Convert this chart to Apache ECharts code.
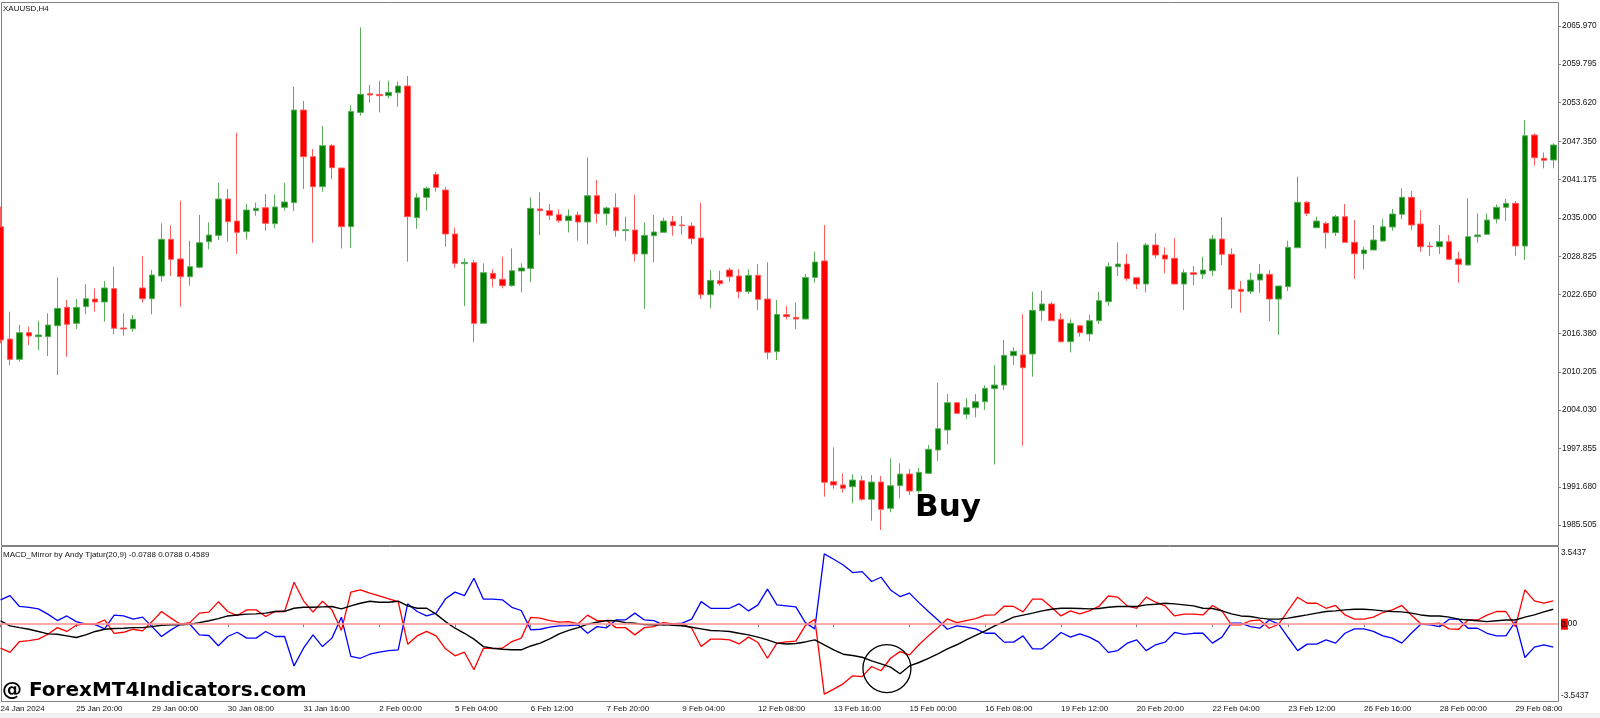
<!DOCTYPE html>
<html><head><meta charset="utf-8">
<script src="https://cdn.jsdelivr.net/npm/echarts@6/dist/echarts.min.js"></script>
<style>html,body{margin:0;padding:0;background:#fff;}#c{width:1600px;height:718px;}</style>
</head><body><div id="c"></div>
<script>
// ---------- data (XAUUSD H4) ----------
const open = [
2033.60,2015.50,2012.22,2016.52,2015.87,2015.87,2017.64,2020.60,2018.02,2020.71,
2021.94,2021.46,2023.61,2017.27,2017.16,2023.72,2021.99,2025.65,2031.56,2028.39,
2025.54,2027.05,2031.18,2032.20,2038.06,2034.51,2032.80,2036.18,2036.66,2034.08,
2036.72,2037.47,2052.40,2044.88,2040.05,2046.65,2043.05,2033.60,2052.02,2055.03,
2054.93,2054.71,2055.19,2056.27,2035.05,2038.33,2042.03,2039.51,2032.42,2027.64,
2027.80,2018.02,2026.08,2025.11,2024.09,2026.46,2026.88,2036.45,2036.18,2035.53,
2034.57,2035.48,2034.35,2038.60,2035.70,2036.66,2032.96,2033.06,2029.20,2032.15,
2032.69,2034.41,2033.87,2033.71,2031.77,2022.64,2024.90,2026.62,2025.65,2023.13,
2025.76,2021.94,2013.46,2019.42,2018.99,2018.72,2025.43,2028.07,1992.50,1991.97,
1991.69,1992.66,1989.66,1992.45,1988.21,1991.86,1993.74,1991.00,1993.85,1997.61,
2000.83,2005.23,2003.36,2004.42,2005.39,2007.49,2008.08,2012.81,2012.92,2013.08,
2020.06,2021.14,2018.67,2015.06,2017.64,2016.30,2018.45,2021.51,2027.15,2027.58,
2025.37,2024.36,2030.64,2029.03,2028.50,2024.36,2026.18,2025.97,2026.50,2031.61,
2029.15,2023.51,2023.18,2025.00,2025.92,2021.94,2023.93,2030.21,2037.53,2033.43,
2034.14,2032.63,2035.21,2031.08,2029.24,2029.84,2031.29,2033.55,2035.59,2038.33,
2034.03,2030.48,2030.37,2031.18,2028.39,2027.42,2031.99,2032.37,2034.84,2036.72,
2037.36,2030.48,2048.37,2044.62,2044.35];
const close = [
2015.34,2012.22,2016.52,2015.98,2016.14,2017.75,2020.44,2017.86,2020.60,2021.99,
2021.46,2023.72,2017.22,2017.11,2018.67,2021.99,2025.81,2031.56,2028.34,2025.54,
2027.15,2031.02,2032.26,2038.06,2034.41,2032.69,2036.29,2036.56,2034.14,2036.77,
2037.58,2052.40,2044.88,2040.05,2046.65,2043.11,2033.60,2052.18,2054.93,2054.82,
2054.71,2055.25,2056.27,2035.21,2038.27,2039.78,2039.94,2032.42,2027.69,2027.85,
2018.02,2026.19,2025.22,2024.09,2026.51,2026.94,2036.56,2036.18,2035.43,2034.57,
2035.32,2034.35,2038.60,2035.70,2036.61,2032.96,2033.12,2029.20,2032.20,2032.74,
2034.51,2033.76,2033.76,2031.67,2022.64,2024.95,2024.42,2025.54,2023.13,2025.76,
2021.89,2013.35,2019.47,2019.10,2018.72,2025.43,2027.91,1992.40,1991.97,1991.44,
1992.77,1989.66,1992.45,1988.05,1991.86,1993.74,1991.00,1994.01,1997.72,2001.04,
2005.23,2003.52,2004.42,2005.39,2007.55,2008.08,2012.87,2013.51,2010.87,2020.12,
2021.14,2018.45,2015.06,2018.03,2016.51,2018.45,2021.67,2027.15,2027.58,2025.21,
2024.36,2030.64,2029.03,2028.39,2024.36,2026.18,2025.92,2026.61,2031.61,2029.15,
2023.51,2023.18,2025.00,2025.97,2021.94,2024.04,2030.27,2037.53,2035.75,2034.51,
2032.63,2035.21,2031.08,2029.24,2029.84,2031.45,2033.59,2035.64,2038.33,2033.87,
2030.37,2030.37,2031.18,2028.34,2027.53,2031.99,2032.26,2034.67,2036.72,2037.36,
2030.48,2048.26,2044.71,2044.30,2046.76];
const high = [
2036.82,2019.90,2017.75,2017.48,2018.45,2019.63,2025.43,2021.78,2021.94,2024.31,
2023.66,2024.84,2027.15,2019.63,2019.36,2028.87,2026.62,2034.14,2033.82,2037.79,
2031.34,2035.48,2034.30,2040.69,2039.67,2048.75,2037.26,2037.47,2038.86,2038.76,
2040.69,2056.16,2053.85,2046.12,2049.82,2046.92,2043.11,2053.15,2065.72,2056.43,
2057.13,2057.13,2056.97,2057.88,2038.97,2040.05,2042.46,2040.05,2033.44,2028.50,
2028.23,2027.69,2026.72,2028.77,2030.11,2027.69,2038.33,2039.13,2037.26,2036.40,
2036.40,2036.02,2044.77,2041.12,2036.82,2038.97,2035.21,2038.76,2034.30,2035.48,
2035.05,2035.32,2035.32,2034.30,2037.47,2026.62,2026.51,2027.00,2026.78,2026.72,
2027.58,2027.85,2021.78,2020.81,2021.40,2025.97,2029.57,2033.87,1998.04,1993.85,
1993.69,1993.47,1993.58,1993.42,1996.27,1995.46,1994.55,1994.76,1998.41,2008.45,
2006.63,2005.29,2005.94,2006.63,2008.04,2011.31,2015.34,2014.16,2019.48,2023.12,
2023.23,2021.51,2019.64,2018.67,2017.75,2019.36,2023.12,2027.86,2031.08,2029.19,
2025.44,2031.01,2032.53,2030.27,2031.73,2026.73,2027.26,2028.76,2032.26,2035.11,
2030.11,2024.84,2026.18,2027.58,2026.61,2024.09,2031.34,2041.65,2037.74,2035.21,
2034.40,2035.48,2037.25,2034.67,2030.37,2033.87,2034.79,2036.45,2039.78,2039.40,
2036.29,2031.18,2033.87,2032.26,2029.57,2038.17,2035.75,2035.75,2037.20,2038.06,
2037.74,2050.79,2048.64,2045.58,2047.04];
const low = [
2014.80,2011.31,2011.84,2014.53,2013.72,2012.76,2009.69,2012.65,2017.06,2019.47,
2019.90,2018.29,2016.25,2016.03,2016.68,2021.35,2019.47,2024.74,2025.65,2020.71,
2024.09,2026.88,2029.95,2031.45,2031.18,2029.20,2031.56,2035.37,2032.96,2033.33,
2036.18,2036.13,2039.67,2031.02,2039.24,2041.23,2030.11,2030.22,2051.49,2053.58,
2052.02,2054.28,2052.94,2027.96,2033.28,2036.18,2039.24,2030.38,2026.99,2020.81,
2014.96,2018.02,2023.82,2023.66,2023.93,2023.02,2024.63,2032.26,2034.67,2034.24,
2032.69,2031.34,2030.75,2034.14,2033.87,2031.99,2031.34,2027.96,2020.33,2027.85,
2032.69,2032.15,2032.31,2030.75,2021.94,2020.44,2024.09,2024.74,2022.05,2022.75,
2020.17,2012.22,2012.11,2018.67,2017.06,2018.67,2024.57,1990.08,1991.37,1990.73,
1989.02,1989.44,1986.21,1984.71,1987.57,1989.82,1990.36,1990.63,1993.74,1995.88,
1998.53,2003.41,2002.56,2002.88,2004.05,1995.30,2007.27,2011.31,1998.30,2009.42,
2018.45,2018.45,2014.96,2013.35,2015.87,2015.18,2017.91,2020.81,2025.65,2024.89,
2023.55,2023.02,2028.50,2026.08,2024.36,2020.17,2024.20,2025.17,2025.70,2027.42,
2020.44,2019.74,2022.75,2022.96,2018.40,2016.14,2023.23,2030.21,2035.32,2033.43,
2030.11,2032.10,2031.08,2025.17,2026.73,2029.84,2031.18,2032.95,2034.79,2033.06,
2029.57,2028.87,2029.19,2028.23,2024.57,2027.31,2031.01,2032.26,2034.14,2034.56,
2028.92,2028.23,2043.42,2043.01,2043.01];

// MACD_Mirror lines
const macdRed = [
-1.19,-1.40,-0.86,-0.81,-0.74,-0.50,-0.17,-0.36,-0.05,0.02,
0.00,0.21,-0.45,-0.40,-0.25,-0.33,0.13,0.63,0.30,0.00,
0.08,0.55,0.60,1.11,0.63,0.43,0.71,0.71,0.38,0.63,
0.63,2.08,1.16,0.60,1.14,0.71,-0.31,1.59,1.70,1.54,
1.40,1.26,1.12,-0.99,-0.58,-0.36,-0.58,-1.22,-1.57,-1.39,
-2.26,-1.19,-1.21,-1.19,-0.86,-0.69,0.34,0.30,0.18,0.10,
0.13,0.02,0.45,0.18,0.18,-0.17,-0.17,-0.53,-0.17,-0.12,
0.08,0.02,0.02,-0.20,-1.11,-0.74,-0.74,-0.78,-0.98,-0.64,
-0.91,-1.69,-0.94,-0.88,-0.84,-0.07,0.25,-3.47,-3.22,-2.96,
-2.56,-2.60,-2.10,-2.31,-1.69,-1.36,-1.52,-1.02,-0.58,-0.17,
0.26,0.08,0.18,0.28,0.45,0.46,0.89,0.88,0.61,1.24,
1.24,0.84,0.41,0.66,0.51,0.66,0.88,1.40,1.34,0.91,
0.79,1.34,1.09,0.91,0.41,0.50,0.50,0.46,0.93,0.66,
-0.03,-0.03,0.17,0.21,-0.20,0.00,0.68,1.34,1.04,1.04,
0.79,0.93,0.46,0.25,0.25,0.35,0.58,0.71,0.93,0.46,
0.02,0.02,0.05,-0.23,-0.25,0.21,0.21,0.45,0.63,0.63,
-0.12,1.70,1.16,1.04,1.16];
const macdBlue = [
1.21,1.42,0.88,0.83,0.76,0.50,0.18,0.41,0.13,0.00,
-0.02,-0.23,0.45,0.41,0.25,0.35,-0.12,-0.61,-0.28,0.00,
0.00,-0.53,-0.56,-1.07,-0.61,-0.40,-0.69,-0.69,-0.36,-0.61,
-0.61,-2.07,-1.19,-0.53,-1.11,-0.69,0.35,-1.60,-1.69,-1.49,
-1.39,-1.31,-1.27,1.01,0.63,0.41,0.55,1.26,1.59,1.42,
2.28,1.24,1.24,1.21,0.84,0.68,-0.28,-0.25,-0.15,-0.08,
-0.07,-0.03,-0.45,-0.12,-0.18,0.21,0.21,0.55,0.21,0.18,
-0.03,0.02,0.05,0.25,1.12,0.79,0.79,0.79,1.01,0.66,
0.96,1.74,0.96,0.91,0.86,0.08,-0.23,3.49,3.22,2.94,
2.56,2.61,2.12,2.33,1.70,1.37,1.54,1.07,0.63,0.21,
-0.25,-0.08,-0.15,-0.23,-0.45,-0.45,-0.89,-0.89,-0.58,-1.22,
-1.22,-0.83,-0.41,-0.64,-0.48,-0.64,-0.89,-1.40,-1.31,-0.94,
-0.78,-1.31,-1.02,-0.89,-0.41,-0.50,-0.45,-0.45,-0.94,-0.64,
0.05,0.05,-0.12,-0.20,0.21,0.00,-0.66,-1.31,-0.99,-0.99,
-0.78,-0.94,-0.45,-0.23,-0.23,-0.36,-0.58,-0.69,-0.94,-0.45,
0.00,-0.03,-0.12,0.25,0.25,-0.20,-0.20,-0.45,-0.58,-0.58,
0.13,-1.65,-1.14,-1.02,-1.14];
const macdSignal = [
0.17,-0.08,-0.17,-0.25,-0.36,-0.48,-0.50,-0.58,-0.66,-0.53,
-0.36,-0.25,-0.21,-0.20,-0.17,-0.17,-0.12,-0.05,-0.03,-0.03,
0.00,0.08,0.17,0.28,0.41,0.46,0.50,0.51,0.55,0.63,
0.64,0.79,0.84,0.84,0.86,0.88,0.76,0.91,1.04,1.14,
1.09,1.09,1.14,0.91,0.79,0.79,0.50,0.13,-0.20,-0.45,
-0.74,-1.11,-1.19,-1.24,-1.27,-1.27,-1.08,-0.94,-0.73,-0.48,
-0.31,-0.17,0.00,0.10,0.18,0.17,0.08,0.05,-0.02,-0.03,
-0.02,-0.05,-0.08,-0.15,-0.23,-0.31,-0.33,-0.36,-0.45,-0.53,
-0.64,-0.78,-0.94,-0.98,-0.96,-0.88,-0.78,-1.02,-1.27,-1.49,
-1.55,-1.64,-1.82,-1.97,-2.13,-2.46,-2.07,-1.90,-1.69,-1.47,
-1.22,-1.02,-0.78,-0.55,-0.33,-0.08,0.13,0.35,0.45,0.55,
0.66,0.74,0.79,0.79,0.78,0.76,0.78,0.84,0.88,0.88,
0.88,0.96,0.99,1.04,1.01,0.96,0.91,0.79,0.78,0.66,
0.51,0.41,0.38,0.30,0.25,0.25,0.30,0.38,0.46,0.55,
0.63,0.66,0.71,0.74,0.74,0.71,0.66,0.63,0.61,0.55,
0.46,0.41,0.41,0.35,0.25,0.21,0.17,0.13,0.17,0.21,
0.21,0.35,0.46,0.61,0.74];

const priceTicks = [2065.970,2059.795,2053.620,2047.350,2041.175,2035.000,2028.825,
                    2022.650,2016.380,2010.205,2004.030,1997.855,1991.680,1985.505];
const macdTicks = [3.5437, 0, -3.5437];
const dateLabels = ['24 Jan 2024','25 Jan 20:00','29 Jan 00:00','30 Jan 08:00','31 Jan 16:00',
  '2 Feb 00:00','5 Feb 04:00','6 Feb 12:00','7 Feb 20:00','9 Feb 04:00','12 Feb 08:00',
  '13 Feb 16:00','15 Feb 00:00','16 Feb 08:00','19 Feb 12:00','20 Feb 20:00','22 Feb 04:00',
  '23 Feb 12:00','26 Feb 16:00','28 Feb 00:00','29 Feb 08:00'];
const labelEvery = 8;
const symbolTitle = 'XAUUSD,H4';
const macdTitle = 'MACD_Mirror by Andy Tjatur(20,9) -0.0788 0.0788 0.4589';
const crossAnnot = { bar: 93.62, value: -2.20 };   // circled crossover, in data space

// ---------- layout ----------
const FONT = '"Liberation Sans", Arial, sans-serif';
const BAR = 9.468;
const N = open.length;
const gridLeft = 0.54 - BAR / 2;
const gridW = BAR * N;
const categories = open.map((_, i) => i);
const candles = open.map((o, i) => [o, close[i], low[i], high[i]]);

const chart = echarts.init(document.getElementById('c'));
const option = {
  animation: false,
  backgroundColor: '#ffffff',
  grid: [
    { left: gridLeft, top: 2, width: gridW, height: 543, containLabel: false, outerBoundsMode: 'none' },
    { left: gridLeft, top: 547, width: gridW, height: 154, containLabel: false, outerBoundsMode: 'none' }
  ],
  xAxis: [
    { type: 'category', gridIndex: 0, data: categories, boundaryGap: true, show: false },
    { type: 'category', gridIndex: 1, data: categories, boundaryGap: true,
      axisLine: { show: false },
      axisTick: { show: true, alignWithLabel: true, interval: labelEvery - 1, length: 3,
                  lineStyle: { color: '#808080' } },
      axisLabel: { show: true, interval: labelEvery - 1, align: 'left', margin: 4,
                   fontSize: 8, fontFamily: FONT, color: '#111',
                   formatter: (v, idx) => dateLabels[idx / labelEvery] || '' },
      splitLine: { show: false } }
  ],
  yAxis: [
    { type: 'value', gridIndex: 0, position: 'right', min: 1982.30, max: 2069.81,
      axisLine: { show: false }, splitLine: { show: false },
      axisTick: { show: true, length: 3, customValues: priceTicks, lineStyle: { color: '#808080' } },
      axisLabel: { customValues: priceTicks, formatter: v => v.toFixed(3), margin: 4,
                   fontSize: 8.3, color: '#111', fontFamily: FONT } },
    { type: 'value', gridIndex: 1, position: 'right', min: -3.81, max: 3.83,
      axisLine: { show: false }, splitLine: { show: false },
      axisTick: { show: false },
      axisLabel: { customValues: macdTicks, margin: 3, fontSize: 8.2, color: '#111', fontFamily: FONT,
                   formatter: v => v === 0 ? '{z|0.}{n|00}' : v.toFixed(4),
                   rich: { z: { backgroundColor: '#ff0000', color: '#000', fontSize: 8.2, fontFamily: FONT, padding: [2, 0, 1, 0] },
                           n: { color: '#000', fontSize: 8.2, fontFamily: FONT } } } }
  ],
  series: [
    { type: 'candlestick', xAxisIndex: 0, yAxisIndex: 0, data: candles, barWidth: 6,
      emphasis: { disabled: true },
      itemStyle: { color: '#008000', color0: '#ff0000', borderColor: '#5cad5c', borderColor0: '#ff5c5c', borderWidth: 1 } },
    { type: 'line', name: 'blue', xAxisIndex: 1, yAxisIndex: 1, data: macdBlue, showSymbol: false,
      emphasis: { disabled: true }, lineStyle: { color: '#0000ff', width: 1.3 },
      markLine: { silent: true, symbol: 'none', label: { show: false },
                  lineStyle: { color: '#ff8f8f', width: 1.5, type: 'solid' }, data: [{ yAxis: 0 }] } },
    { type: 'line', name: 'red', xAxisIndex: 1, yAxisIndex: 1, data: macdRed, showSymbol: false,
      emphasis: { disabled: true }, lineStyle: { color: '#ff0000', width: 1.3 } },
    { type: 'line', name: 'signal', xAxisIndex: 1, yAxisIndex: 1, data: macdSignal, showSymbol: false,
      emphasis: { disabled: true }, lineStyle: { color: '#000000', width: 1.4 } }
  ],
  graphic: [
    { id: 'frameMain', type: 'rect', silent: true, z: 0,
      shape: { x: 1.5, y: 2.5, width: 1557, height: 543 },
      style: { fill: 'none', stroke: '#808080', lineWidth: 1 } },
    { id: 'frameMacd', type: 'rect', silent: true, z: 0,
      shape: { x: 1.5, y: 546.5, width: 1557, height: 155 },
      style: { fill: 'none', stroke: '#808080', lineWidth: 1 } },
    { id: 'bottomStrip', type: 'rect', silent: true, z: 0,
      shape: { x: 0, y: 713, width: 1600, height: 5 }, style: { fill: '#f0f0f0' } },
    { id: 'symTitle', type: 'text', x: 3, y: 8.5, silent: true, z: 50,
      style: { text: symbolTitle, font: '8px ' + FONT, fill: '#111', verticalAlign: 'middle', textVerticalAlign: 'middle' } },
    { id: 'macdTitle', type: 'text', x: 3, y: 554.5, silent: true, z: 50,
      style: { text: macdTitle, font: '8px ' + FONT, fill: '#111', verticalAlign: 'middle', textVerticalAlign: 'middle' } },
    { id: 'buy', type: 'text', x: 915, y: 508, silent: true, z: 50,
      style: { text: 'Buy', font: 'bold 31px "DejaVu Sans", sans-serif', fill: '#000', verticalAlign: 'middle', textVerticalAlign: 'middle' } },
    { id: 'wm', type: 'text', x: 2, y: 691, silent: true, z: 50,
      style: { text: '@ ForexMT4Indicators.com', font: 'bold 20px "DejaVu Sans", sans-serif', fill: '#000', verticalAlign: 'middle', textVerticalAlign: 'middle' } }
  ]
};
chart.setOption(option);

// circle annotation around the crossover, placed through the MACD axes
const b0 = Math.floor(crossAnnot.bar);
const p0 = chart.convertToPixel({ xAxisIndex: 1, yAxisIndex: 1 }, [b0, crossAnnot.value]);
const p1 = chart.convertToPixel({ xAxisIndex: 1, yAxisIndex: 1 }, [b0 + 1, crossAnnot.value]);
const cx = p0[0] + (p1[0] - p0[0]) * (crossAnnot.bar - b0);
chart.setOption({ graphic: [
  { id: 'crossCircle', type: 'circle', silent: true, z: 60,
    shape: { cx: cx, cy: p0[1], r: 24 },
    style: { fill: 'none', stroke: '#000', lineWidth: 1.3 } }
] });
</script>
</body></html>
